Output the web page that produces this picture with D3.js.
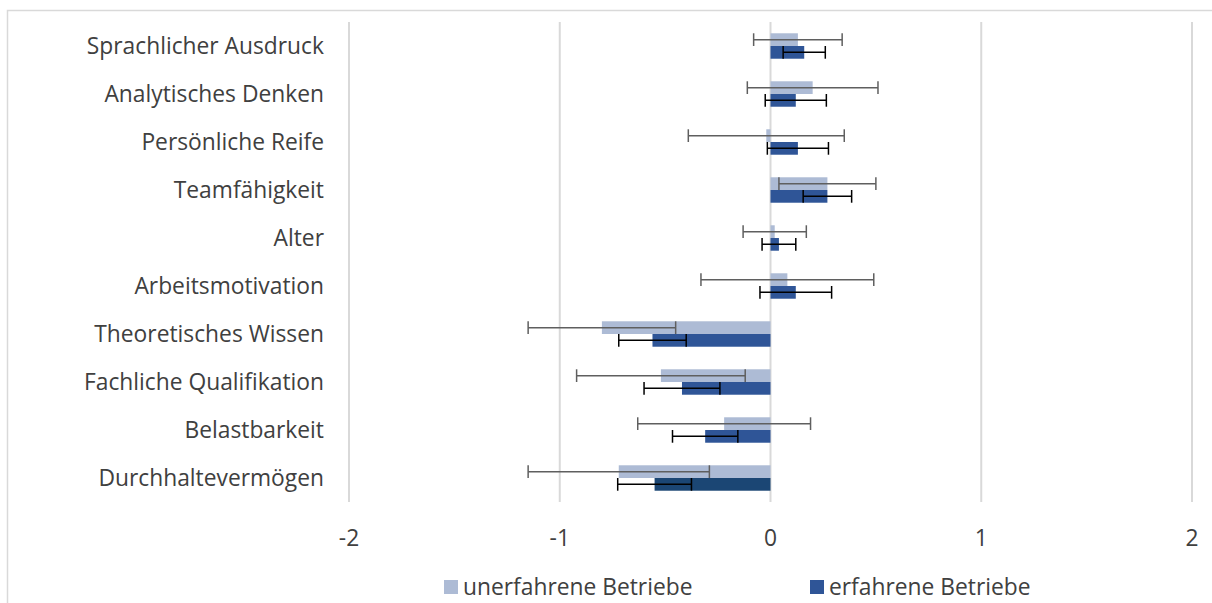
<!DOCTYPE html>
<html>
<head>
<meta charset="utf-8">
<script src="https://cdn.jsdelivr.net/npm/d3@7"></script>
<style>
  body { margin: 0; background: #fff; }
  text { font-family: "Open Sans", sans-serif; fill: #404040; }
</style>
</head>
<body>
<div id="chart"></div>
<script>
const categories = ['Sprachlicher Ausdruck', 'Analytisches Denken', 'Persönliche Reife', 'Teamfähigkeit', 'Alter',
  'Arbeitsmotivation', 'Theoretisches Wissen', 'Fachliche Qualifikation', 'Belastbarkeit', 'Durchhaltevermögen'];
const seriesNames = ['unerfahrene Betriebe', 'erfahrene Betriebe'];
const unerfahren = [0.13, 0.20, -0.02, 0.27, 0.02, 0.08, -0.80, -0.52, -0.22, -0.72];
const unerfahrenErr = [0.21, 0.31, 0.37, 0.23, 0.15, 0.41, 0.35, 0.40, 0.41, 0.43];
const erfahren = [0.16, 0.12, 0.13, 0.27, 0.04, 0.12, -0.56, -0.42, -0.31, -0.55];
const erfahrenErr = [0.10, 0.145, 0.145, 0.115, 0.08, 0.17, 0.16, 0.18, 0.155, 0.175];
const xTicks = [-2, -1, 0, 1, 2];

const width = 1212;
const height = 603;
const margin = { top: 22, right: 20, bottom: 101, left: 349 };
const colors = ['#adbbd5', '#2f5597'];
const errColors = ['#5f5f5f', '#000'];
const fontSize = 22.8;

const data = categories.map((c, i) => ({
  category: c,
  values: [
    { s: 0, v: unerfahren[i], e: unerfahrenErr[i] },
    { s: 1, v: erfahren[i], e: erfahrenErr[i] },
  ],
}));

const x = d3.scaleLinear()
  .domain([-2, 2])
  .range([margin.left, 1192]);

const y = d3.scaleBand()
  .domain(categories)
  .range([margin.top, height - margin.bottom])
  .paddingInner(0.47)
  .paddingOuter(0.235);

const ySub = d3.scaleBand()
  .domain([0, 1])
  .range([0, y.bandwidth()]);

const svg = d3.select('#chart')
  .append('svg')
  .attr('width', width)
  .attr('height', height);

// chart frame
svg.append('rect')
  .attr('x', 7.5)
  .attr('y', 10.5)
  .attr('width', width + 10)
  .attr('height', height + 10)
  .attr('fill', 'none')
  .attr('stroke', '#d9d9d9')
  .attr('stroke-width', 1.5);

// gridlines
svg.append('g')
  .selectAll('line')
  .data(xTicks)
  .join('line')
  .attr('x1', (d) => x(d))
  .attr('x2', (d) => x(d))
  .attr('y1', margin.top)
  .attr('y2', height - margin.bottom)
  .attr('stroke', '#d9d9d9')
  .attr('stroke-width', 2);

const rows = svg.append('g')
  .selectAll('g')
  .data(data)
  .join('g')
  .attr('transform', (d) => `translate(0,${y(d.category)})`);

rows.each(function (d, i) {
  const g = d3.select(this);
  d.values.forEach((p) => {
    let fill = colors[p.s];
    if (p.s === 1 && i === categories.length - 1) fill = '#1b4674';
    g.append('rect')
      .attr('x', x(Math.min(0, p.v)))
      .attr('y', ySub(p.s))
      .attr('width', Math.abs(x(p.v) - x(0)))
      .attr('height', ySub.bandwidth())
      .attr('fill', fill);
  });
  // error bars on top of both bars
  d.values.forEach((p) => {
    const yc = ySub(p.s) + ySub.bandwidth() / 2;
    const h = ySub.bandwidth();
    const eg = g.append('g')
      .attr('stroke', errColors[p.s])
      .attr('stroke-width', 1.5);
    eg.append('line')
      .attr('x1', x(p.v - p.e))
      .attr('x2', x(p.v + p.e))
      .attr('y1', yc)
      .attr('y2', yc);
    [p.v - p.e, p.v + p.e].forEach((v) => {
      eg.append('line')
        .attr('x1', x(v))
        .attr('x2', x(v))
        .attr('y1', yc - h / 2)
        .attr('y2', yc + h / 2);
    });
  });
});

// category labels
svg.append('g')
  .selectAll('text')
  .data(categories)
  .join('text')
  .attr('x', 324)
  .attr('y', (d) => y(d) + y.bandwidth() / 2)
  .attr('dy', '0.35em')
  .attr('text-anchor', 'end')
  .attr('font-size', fontSize)
  .text((d) => d);

// x tick labels
svg.append('g')
  .selectAll('text')
  .data(xTicks)
  .join('text')
  .attr('x', (d) => x(d))
  .attr('y', 546)
  .attr('text-anchor', 'middle')
  .attr('font-size', fontSize)
  .text((d) => d);

// legend
const legendX = [444, 810];
const legend = svg.append('g')
  .selectAll('g')
  .data(seriesNames)
  .join('g')
  .attr('transform', (d, i) => `translate(${legendX[i]},587)`);

legend.append('rect')
  .attr('x', 0)
  .attr('y', -7)
  .attr('width', 14)
  .attr('height', 14)
  .attr('fill', (d, i) => colors[i]);

legend.append('text')
  .attr('x', 19)
  .attr('dy', '0.35em')
  .attr('font-size', fontSize)
  .text((d) => d);
</script>
</body>
</html>
